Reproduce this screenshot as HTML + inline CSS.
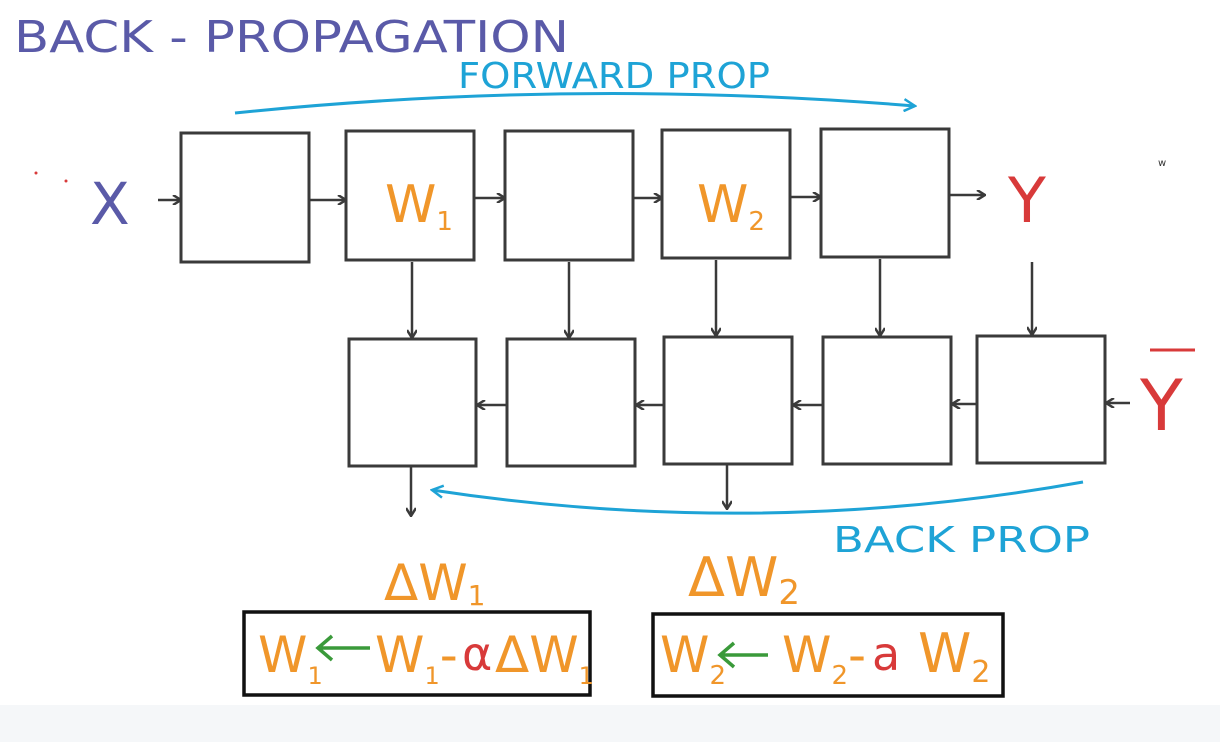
<!DOCTYPE html>
<html><head><meta charset="utf-8"><style>
html,body{margin:0;padding:0;background:#fff;width:1220px;height:742px;overflow:hidden}
text{font-family:"DejaVu Sans","Liberation Sans",sans-serif}
</style></head><body>
<svg width="1220" height="742" viewBox="0 0 1220 742" xmlns="http://www.w3.org/2000/svg">
<defs>
<marker id="ah" markerWidth="10" markerHeight="10" refX="8" refY="5" orient="auto" markerUnits="userSpaceOnUse"><path d="M1,0 L9,5 L1,10" fill="none" stroke="#3a3a3a" stroke-width="2.5"/></marker>
<marker id="bh" markerWidth="14" markerHeight="14" refX="12" refY="7" orient="auto" markerUnits="userSpaceOnUse"><path d="M1,1 L12,7 L1,13" fill="none" stroke="#1ea3d6" stroke-width="2.5"/></marker>
</defs>
<rect x="0" y="705" width="1220" height="37" fill="#f5f7f9"/>
<text x="14" y="52" font-size="44" fill="#5a5aa8" textLength="555" lengthAdjust="spacingAndGlyphs">BACK - PROPAGATION</text>
<text x="458" y="88" font-size="36" fill="#1ea3d6" textLength="312" lengthAdjust="spacingAndGlyphs">FORWARD PROP</text>
<path d="M235,113 Q575,78 915,106" fill="none" stroke="#1ea3d6" stroke-width="3" marker-end="url(#bh)"/>
<g fill="none" stroke="#3a3a3a" stroke-width="3">
<rect x="181" y="133" width="128" height="129"/>
<rect x="346" y="131" width="128" height="129"/>
<rect x="505" y="131" width="128" height="129"/>
<rect x="662" y="130" width="128" height="128"/>
<rect x="821" y="129" width="128" height="128"/>
<rect x="349" y="339" width="127" height="127"/>
<rect x="507" y="339" width="128" height="127"/>
<rect x="664" y="337" width="128" height="127"/>
<rect x="823" y="337" width="128" height="127"/>
<rect x="977" y="336" width="128" height="127"/>
</g>
<g stroke="#3a3a3a" stroke-width="2.5" marker-end="url(#ah)">
<line x1="158" y1="200" x2="180" y2="200"/>
<line x1="309" y1="200" x2="345" y2="200"/>
<line x1="474" y1="198" x2="504" y2="198"/>
<line x1="633" y1="198" x2="661" y2="198"/>
<line x1="790" y1="197" x2="820" y2="197"/>
<line x1="950" y1="195" x2="984" y2="195"/>
<line x1="412" y1="262" x2="412" y2="337"/>
<line x1="569" y1="262" x2="569" y2="337"/>
<line x1="716" y1="260" x2="716" y2="335"/>
<line x1="880" y1="259" x2="880" y2="335"/>
<line x1="1032" y1="262" x2="1032" y2="334"/>
<line x1="1130" y1="403" x2="1107" y2="403"/>
<line x1="977" y1="404" x2="953" y2="404"/>
<line x1="823" y1="405" x2="794" y2="405"/>
<line x1="664" y1="405" x2="637" y2="405"/>
<line x1="507" y1="405" x2="478" y2="405"/>
<line x1="411" y1="467" x2="411" y2="515"/>
<line x1="727" y1="465" x2="727" y2="508"/>
</g>
<text x="90" y="224" font-size="58" fill="#5a5aa8">X</text>
<text x="385" y="222" font-size="52" fill="#f0962a">W<tspan font-size="26" dy="8">1</tspan></text>
<text x="697" y="222" font-size="52" fill="#f0962a">W<tspan font-size="26" dy="8">2</tspan></text>
<text x="1008" y="222" font-size="62" fill="#d83a3a">Y</text>
<line x1="1150" y1="350" x2="1195" y2="350" stroke="#d83a3a" stroke-width="3"/>
<text x="1140" y="430" font-size="70" fill="#d83a3a">Y</text>
<text x="1158" y="166" font-size="10" fill="#333">w</text>
<path d="M1083,482 Q760,540 432,490" fill="none" stroke="#1ea3d6" stroke-width="3" marker-end="url(#bh)"/>
<text x="833" y="552" font-size="36" fill="#1ea3d6" textLength="257" lengthAdjust="spacingAndGlyphs">BACK PROP</text>
<text x="384" y="600" font-size="50" fill="#f0962a">ΔW<tspan font-size="28" dy="5">1</tspan></text>
<text x="688" y="596" font-size="54" fill="#f0962a">ΔW<tspan font-size="34" dy="8">2</tspan></text>
<rect x="244" y="612" width="346" height="83" fill="none" stroke="#111" stroke-width="3.5"/>
<rect x="653" y="614" width="350" height="82" fill="none" stroke="#111" stroke-width="3.5"/>
<text x="258" y="672" font-size="50" fill="#f0962a">W<tspan font-size="24" dy="12">1</tspan></text>
<g stroke="#3a9a3a" stroke-width="3.5" fill="none"><path d="M318,648 L370,648 M332,636 L318,648 L332,660"/><path d="M720,655 L768,655 M734,643 L720,655 L734,667"/></g>
<text x="375" y="672" font-size="50" fill="#f0962a">W<tspan font-size="24" dy="12">1</tspan><tspan dy="-12">-</tspan></text>
<text x="462" y="670" font-size="46" fill="#d83a3a">α</text>
<text x="495" y="672" font-size="50" fill="#f0962a">ΔW<tspan font-size="24" dy="12">1</tspan></text>
<text x="660" y="672" font-size="50" fill="#f0962a">W<tspan font-size="26" dy="12">2</tspan></text>
<text x="782" y="672" font-size="50" fill="#f0962a">W<tspan font-size="26" dy="12">2</tspan><tspan dy="-12">-</tspan></text>
<text x="872" y="670" font-size="46" fill="#d83a3a">a</text>
<text x="918" y="672" font-size="54" fill="#f0962a">W<tspan font-size="30" dy="10">2</tspan></text>
<circle cx="36" cy="173" r="1.5" fill="#d83a3a"/><circle cx="66" cy="181" r="1.5" fill="#d83a3a"/>
</svg>
</body></html>
